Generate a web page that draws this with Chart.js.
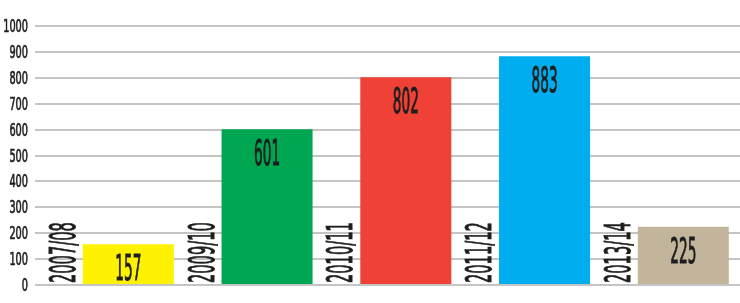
<!DOCTYPE html>
<html lang="en">
<head>
    <meta charset="UTF-8">
    <title>Bar chart 2007/08 - 2013/14</title>
    <script src="https://cdn.jsdelivr.net/npm/chart.js"></script>
    <style>
        html, body { margin: 0; padding: 0; background: #fff; }
        #wrap { width: 740px; height: 303px; }
    </style>
</head>
<body>
    <div id="wrap"><canvas id="chart"></canvas></div>

    <script>
        // data
        const years = ['2007/08', '2009/10', '2010/11', '2011/12', '2013/14'];
        const values = [157, 601, 802, 883, 225];
        const barColors = ['#fff200', '#00a651', '#ef4136', '#00aeef', '#c3b59b'];
        const yTicks = [0, 100, 200, 300, 400, 500, 600, 700, 800, 900, 1000];

        const FONT = '"Liberation Sans Narrow", "DejaVu Sans Condensed", "Liberation Sans", sans-serif';

        // draws condensed text: squeeze so one digit is digitW px wide
        function squeezedText(ctx, text, x, y, size, digitW, align, rot, stroke) {
            ctx.save();
            ctx.font = size + 'px ' + FONT;
            const sx = digitW / ctx.measureText('0').width;
            ctx.translate(x, y);
            if (rot) ctx.rotate(rot);
            ctx.scale(sx, 1);
            ctx.textAlign = align;
            ctx.textBaseline = 'alphabetic';
            ctx.fillText(text, 0, 0);
            ctx.lineWidth = stroke;
            ctx.strokeText(text, 0, 0);
            ctx.restore();
        }

        const labelsPlugin = {
            id: 'labels',
            afterDraw(chart) {
                const ctx = chart.ctx;
                const xs = chart.scales.x;
                const ys = chart.scales.y;
                ctx.fillStyle = '#1e1e1e';
                ctx.strokeStyle = '#1e1e1e';

                // y axis numbers
                ys.ticks.forEach(t => {
                    squeezedText(ctx, String(t.value), 28, ys.getPixelForValue(t.value) + 6, 17, 6.2, 'right', 0, 0.7);
                });

                const meta = chart.getDatasetMeta(0);
                meta.data.forEach((bar, i) => {
                    // value inside the bar
                    squeezedText(ctx, String(values[i]), bar.x, bar.y + 36, 36, 8.7, 'center', 0, 1);
                    // rotated year label left of the bar
                    const left = bar.x - bar.width / 2;
                    squeezedText(ctx, years[i], left - 8, xs.bottom - 2, 36, 9.3, 'left', -Math.PI / 2, 1);
                });
            }
        };

        new Chart(document.getElementById('chart'), {
            type: 'bar',
            data: {
                datasets: [{
                    data: values.map((v, i) => ({ x: i, y: v })),
                    backgroundColor: barColors,
                    borderWidth: 0,
                    categoryPercentage: 1,
                    barPercentage: 0.656
                }]
            },
            options: {
                responsive: true,
                maintainAspectRatio: false,
                animation: false,
                layout: { padding: { top: 26, bottom: 18, left: 0, right: 0 } },
                plugins: { legend: { display: false }, tooltip: { enabled: false } },
                scales: {
                    x: {
                        type: 'linear',
                        display: false,
                        offset: false,
                        min: -0.6725,
                        max: 4.4086,
                        afterBuildTicks: s => { s.ticks = years.map((y, i) => ({ value: i })); }
                    },
                    y: {
                        min: 0,
                        max: 1000,
                        afterBuildTicks: s => { s.ticks = yTicks.map(v => ({ value: v })); },
                        afterFit: s => { s.width = 35; },
                        ticks: { display: false },
                        border: { display: false },
                        grid: { color: '#c4c4c4', lineWidth: 2, drawTicks: false }
                    }
                }
            },
            plugins: [labelsPlugin]
        });
    </script>
</body>
</html>
